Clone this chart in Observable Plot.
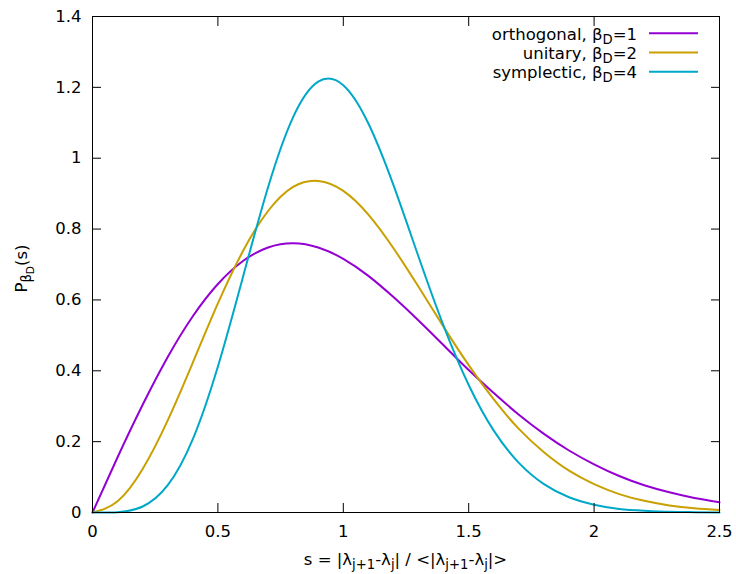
<!DOCTYPE html>
<html><head><meta charset="utf-8">
<script src="https://cdn.jsdelivr.net/npm/d3@7"></script>
<script src="https://cdn.jsdelivr.net/npm/@observablehq/plot@0.6"></script>
<style>
body{margin:0;background:#fff}
#chart{width:736px;height:574px}
</style>
</head><body><div id="chart"></div>
<script>
// spacing s (x values)
const sValues = [0,0.1,0.2,0.3,0.4,0.5,0.6,0.7,0.8,0.9,1.0,1.1,1.2,1.3,1.4,1.5,1.6,1.7,1.8,1.9,2.0,2.1,2.2,2.3,2.4,2.5];
// P(s) for each ensemble
const orthogonal = [0,0.156,0.304,0.439,0.554,0.645,0.710,0.748,0.760,0.748,0.716,0.668,0.608,0.542,0.472,0.402,0.337,0.276,0.222,0.175,0.136,0.103,0.077,0.057,0.041,0.029];
const unitary    = [0,0.032,0.123,0.260,0.423,0.590,0.738,0.851,0.919,0.936,0.908,0.841,0.746,0.637,0.524,0.416,0.319,0.236,0.170,0.118,0.080,0.052,0.033,0.020,0.012,0.007];
const symplectic = [0,0.001,0.017,0.077,0.207,0.412,0.665,0.918,1.116,1.216,1.206,1.098,0.924,0.722,0.527,0.360,0.231,0.140,0.080,0.043,0.022,0.010,0.005,0.002,0.001,0.000];

const seriesNames = ["orthogonal","unitary","symplectic"];
const betaValues = ["1","2","4"];
const seriesColors = ["#9400d3","#c8a000","#00a8c8"];
const xTicks = [0,0.5,1,1.5,2,2.5];
const yTicks = [0,0.2,0.4,0.6,0.8,1,1.2,1.4];

const seriesValues = [orthogonal, unitary, symplectic];
const data = [];
seriesNames.forEach((name, i) => {
  sValues.forEach((s, j) => data.push({series: name, s, p: seriesValues[i][j]}));
});

const fmt = d => String(d);
const FS = 16.5, SUB = 13.2, SUBSUB = 10.6;

const chart = Plot.plot({
  width: 736, height: 574,
  marginLeft: 92, marginRight: 17, marginTop: 16, marginBottom: 62,
  style: {fontFamily: "'DejaVu Sans', sans-serif", fontSize: FS + "px", background: "white", color: "black", overflow: "visible"},
  x: {domain: [0, 2.5]},
  y: {domain: [0, 1.4]},
  color: {domain: seriesNames, range: seriesColors},
  marks: [
    Plot.line(data, {x: "s", y: "p", z: "series", stroke: "series", strokeWidth: 2, curve: "natural"}),
    Plot.axisX({anchor: "bottom", ticks: xTicks, tickFormat: fmt, tickSize: 0, tickPadding: 13, label: null}),
    Plot.axisY({anchor: "left", ticks: yTicks, tickFormat: fmt, tickSize: 0, tickPadding: 11, label: null}),
    Plot.axisX({anchor: "bottom", ticks: xTicks, tickSize: -9, fill: "none", label: null}),
    Plot.axisX({anchor: "top", ticks: xTicks, tickSize: -9, fill: "none", label: null}),
    Plot.axisY({anchor: "left", ticks: yTicks, tickSize: -9, fill: "none", label: null}),
    Plot.axisY({anchor: "right", ticks: yTicks, tickSize: -9, fill: "none", label: null}),
    Plot.frame({stroke: "black", strokeWidth: 1})
  ]
});
document.getElementById("chart").appendChild(chart);

const svg = d3.select(chart);
const font = "'DejaVu Sans', sans-serif";

// helper: append text pieces with subscripts
function addRuns(t, runs) {
  runs.forEach(r => {
    const ts = t.append("tspan").text(r.t);
    if (r.size) ts.attr("font-size", r.size);
    if (r.dy) ts.attr("dy", r.dy);
  });
}

// x label
const xl = svg.append("text").attr("x", 405.5).attr("y", 565).attr("text-anchor", "middle")
  .attr("font-family", font).attr("font-size", FS).attr("fill", "black");
addRuns(xl, [
  {t: "s = |λ"}, {t: "j+1", size: SUB, dy: 4}, {t: "-λ", dy: -4}, {t: "j", size: SUB, dy: 4},
  {t: "| / <|λ", dy: -4}, {t: "j+1", size: SUB, dy: 4}, {t: "-λ", dy: -4}, {t: "j", size: SUB, dy: 4},
  {t: "|>", dy: -4}
]);

// y label
const yl = svg.append("text").attr("transform", "translate(27,268.5) rotate(-90)").attr("text-anchor", "middle")
  .attr("font-family", font).attr("font-size", FS).attr("fill", "black");
addRuns(yl, [
  {t: "P"}, {t: "β", size: SUB, dy: 4}, {t: "D", size: SUBSUB, dy: 3}, {t: "(s)", dy: -7}
]);

// legend
const legendBaselines = [39.5, 59, 78.3];
const legendLines = [33.3, 52.5, 71.7];
seriesNames.forEach((name, i) => {
  const t = svg.append("text").attr("x", 637).attr("y", legendBaselines[i]).attr("text-anchor", "end")
    .attr("font-family", font).attr("font-size", FS).attr("fill", "black");
  addRuns(t, [{t: name + ", β"}, {t: "D", size: SUB, dy: 4}, {t: "=" + betaValues[i], dy: -4}]);
  svg.append("line").attr("x1", 649).attr("x2", 698).attr("y1", legendLines[i]).attr("y2", legendLines[i])
    .attr("stroke", seriesColors[i]).attr("stroke-width", 2);
});
</script>
</body></html>
